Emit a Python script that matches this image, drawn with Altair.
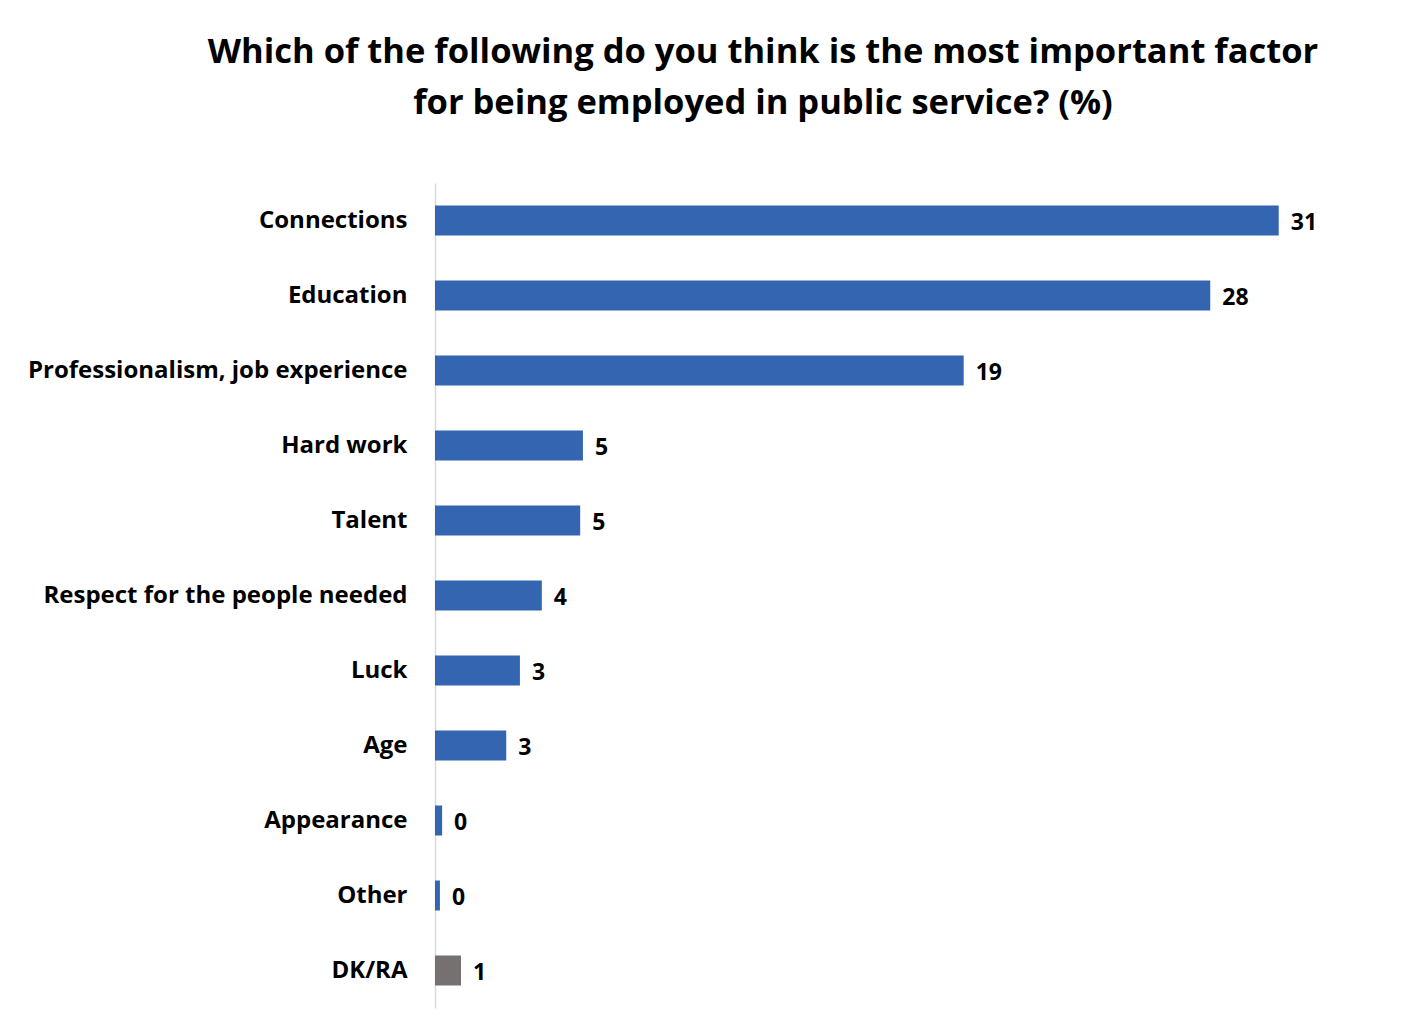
import altair as alt
import pandas as pd

categories = ["Connections", "Education", "Professionalism, job experience", "Hard work",
              "Talent", "Respect for the people needed", "Luck", "Age", "Appearance",
              "Other", "DK/RA"]
values = [30.8, 28.3, 19.3, 5.4, 5.3, 3.9, 3.1, 2.6, 0.26, 0.18, 0.95]
groups = ["main"] * 10 + ["dk"]

df = pd.DataFrame({"category": categories, "value": values, "group": groups})

FONT = "Open Sans"

base = alt.Chart(df).encode(
    y=alt.Y("category:N", sort=categories,
            scale=alt.Scale(paddingInner=0.6, paddingOuter=0.3),
            axis=alt.Axis(title=None, ticks=False, labelFont=FONT, labelFontSize=24,
                          labelFontWeight="bold", labelColor="#000000", labelPadding=28,
                          domainColor="#d9d9d9", domainWidth=1.5, labelLimit=500)),
    x=alt.X("value:Q", scale=alt.Scale(domain=[0, 33], nice=False),
            axis=None),
)

bars = base.mark_bar().encode(
    color=alt.Color("group:N", scale=alt.Scale(domain=["main", "dk"],
                                               range=["#3465B0", "#767171"]), legend=None)
)

labels = base.mark_text(align="left", baseline="middle", dx=12, dy=2, font=FONT,
                        fontSize=23, fontWeight="bold", color="#000000").encode(
    text=alt.Text("value:Q", format=".0f")
)

chart = (bars + labels).properties(
    width=904, height=825,
    autosize=alt.AutoSizeParams(type="none"),
    padding={"left": 427, "top": 175, "right": 60, "bottom": 15},
    background="#ffffff",
    title=alt.TitleParams(
        text=["Which of the following do you think is the most important factor",
              "for being employed in public service? (%)"],
        font=FONT, fontSize=34.5, fontWeight="bold", color="#000000",
        anchor="middle", dx=-124, offset=62, lineHeight=51,
    ),
).configure_view(strokeWidth=0, stroke="transparent")

chart.save("out.html", embed_options={"renderer": "svg", "actions": False})
